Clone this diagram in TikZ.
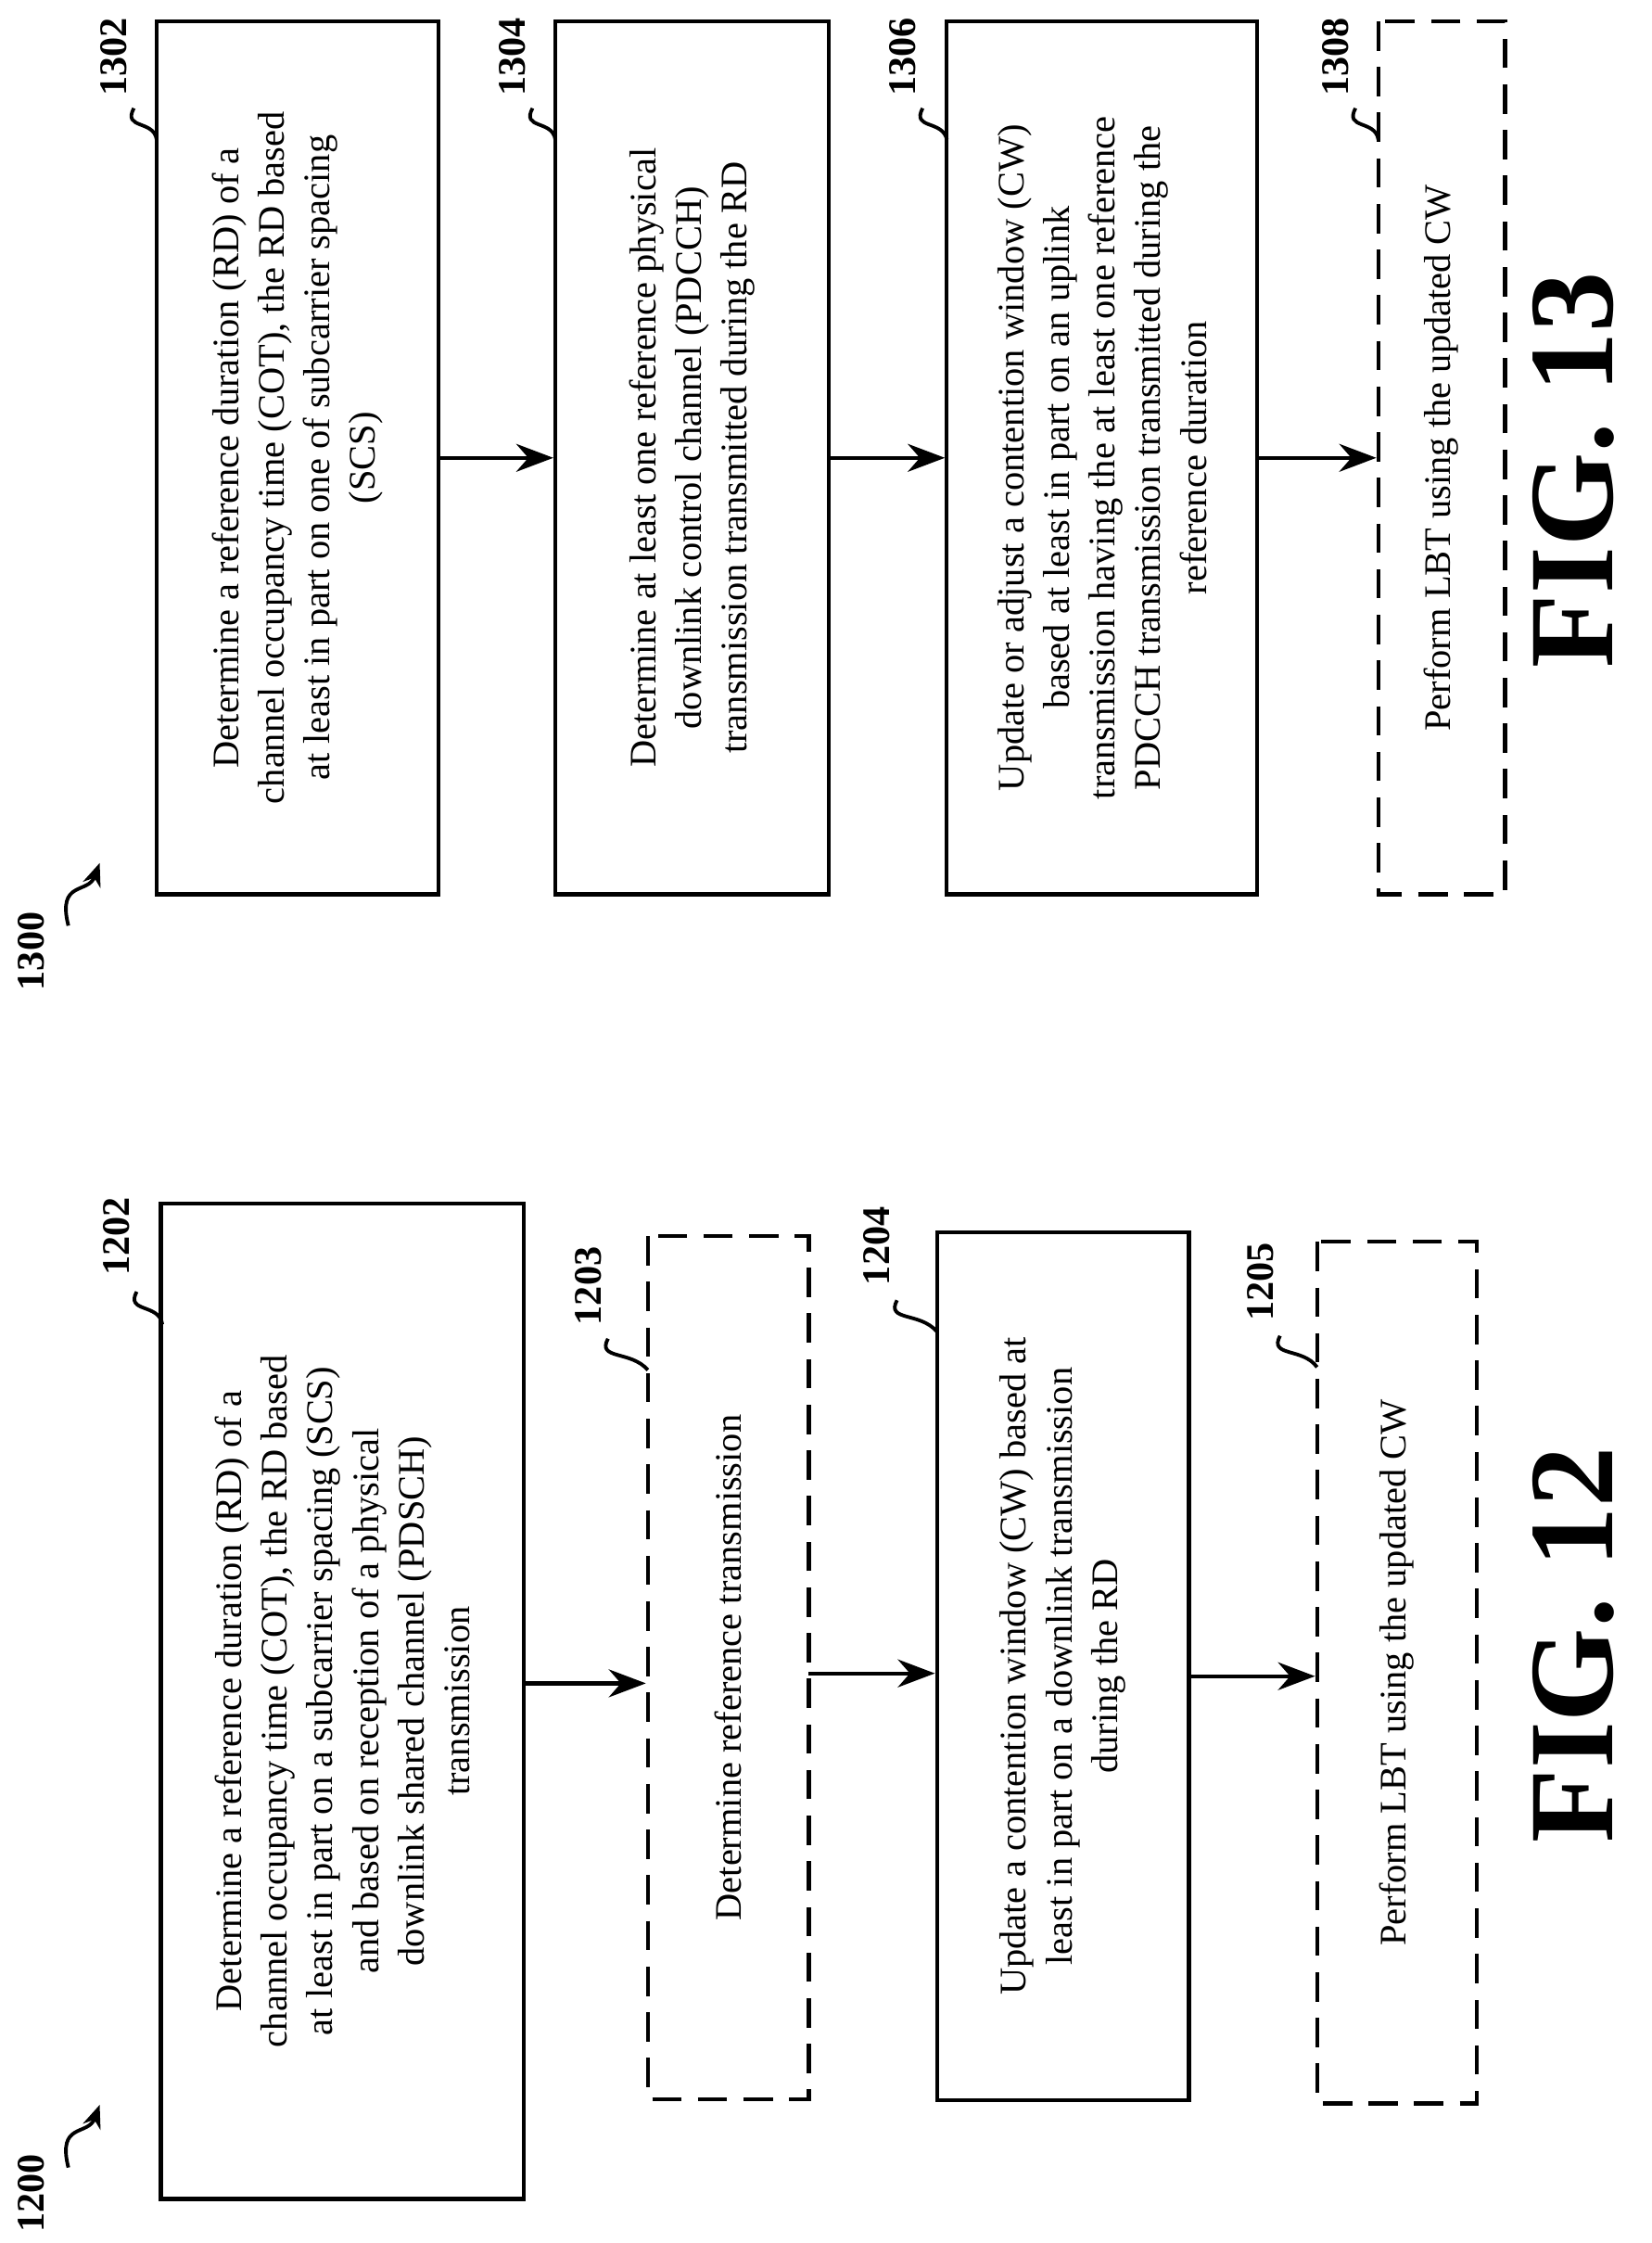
\documentclass[tikz,border=0pt]{standalone}
\usepackage{fontspec}
\setmainfont{Liberation Serif}
\usetikzlibrary{arrows.meta}
\begin{document}
\begin{tikzpicture}[x=0.015353cm,y=-0.015353cm,
  box/.style={draw,line width=1.2pt,rotate=90,inner sep=0pt,align=center,font=\fontsize{11.5}{14}\selectfont},
  dbox/.style={box,dash pattern=on 9pt off 5pt},
  lab/.style={rotate=90,font=\bfseries\fontsize{12}{14}\selectfont},
  fig/.style={rotate=90,font=\bfseries\fontsize{37}{40}\selectfont},
  arr/.style={line width=1.2pt,-{Stealth[length=4mm,width=3mm]}},
  sq/.style={line width=1.1pt}]
\useasboundingbox (0,0) rectangle (1160,1575);
% FIG 12
\node[box,minimum width=699*0.015353cm,minimum height=255*0.015353cm] (b1202) at (240.5,1194.5)
 {Determine a reference duration (RD) of a\\channel occupancy time (COT), the RD based\\at least in part on a subcarrier spacing (SCS)\\and based on reception of a physical\\downlink shared channel (PDSCH)\\transmission};
\node[dbox,minimum width=606*0.015353cm,minimum height=113*0.015353cm] (b1203) at (511.5,1171) {Determine reference transmission};
\node[box,minimum width=609*0.015353cm,minimum height=177*0.015353cm] (b1204) at (746.5,1170)
 {Update a contention window (CW) based at\\least in part on a downlink transmission\\during the RD};
\node[dbox,minimum width=605*0.015353cm,minimum height=112*0.015353cm] (b1205) at (981,1174.5) {Perform LBT using the updated CW};
\draw[arr] (368,1182) coordinate(a1) -- (a1 -| b1203.north);
\draw[arr] (568,1175) coordinate(a2) -- (a2 -| b1204.north);
\draw[arr] (835,1177) coordinate(a3) -- (a3 -| b1205.north);
% FIG 13
\node[box,minimum width=613*0.015353cm,minimum height=198*0.015353cm] (b1302) at (209,321.5)
 {Determine a reference duration (RD) of a\\channel occupancy time (COT), the RD based\\at least in part on one of subcarrier spacing\\(SCS)};
\node[box,minimum width=613*0.015353cm,minimum height=192*0.015353cm] (b1304) at (486,321.5)
 {Determine at least one reference physical\\downlink control channel (PDCCH)\\transmission transmitted during the RD};
\node[box,minimum width=613*0.015353cm,minimum height=218*0.015353cm] (b1306) at (774,321.5)
 {Update or adjust a contention window (CW)\\based at least in part on an uplink\\transmission having the at least one reference\\PDCCH transmission transmitted during the\\reference duration};
\node[dbox,minimum width=613*0.015353cm,minimum height=89*0.015353cm] (b1308) at (1012.5,321.5) {Perform LBT using the updated CW};
\draw[arr] (b1302.south) -- (b1304.north);
\draw[arr] (b1304.south) -- (b1306.north);
\draw[arr] (b1306.south) -- (b1308.north);
% labels
\node[lab] (l1200) at (22,1540) {1200};
\draw[sq,-{Stealth[length=2.5mm,width=2mm]}] (48,1522) .. controls (40,1490) and (62,1500) .. (70,1478);
\node[lab] (l1300) at (22,668) {1300};
\draw[sq,-{Stealth[length=2.5mm,width=2mm]}] (48,650) .. controls (40,618) and (62,628) .. (70,606);
\node[lab] (l1202) at (82,868) {1202};
\draw[sq] (96,907) .. controls (88,922) and (112,915) .. (114,930);
\node[lab] (l1203) at (413,903) {1203};
\draw[sq] (427,940) .. controls (419,955) and (443,948) .. (455,962);
\node[lab] (l1204) at (616,875) {1204};
\draw[sq] (630,913) .. controls (622,928) and (646,921) .. (658,935);
\node[lab] (l1205) at (885,900) {1205};
\draw[sq] (899,938) .. controls (891,953) and (915,946) .. (925,960);
\node[lab] (l1302) at (80,40) {1302};
\draw[sq] (94,76) .. controls (86,91) and (108,84) .. (110,98);
\node[lab] (l1304) at (360,40) {1304};
\draw[sq] (374,76) .. controls (366,91) and (388,84) .. (390,98);
\node[lab] (l1306) at (634,40) {1306};
\draw[sq] (648,76) .. controls (640,91) and (662,84) .. (665,98);
\node[lab] (l1308) at (938,40) {1308};
\draw[sq] (952,76) .. controls (944,91) and (966,84) .. (968,98);
\node[fig] (f12) at (1105,1155) {FIG. 12};
\node[fig] (f13) at (1105,330) {FIG. 13};
\end{tikzpicture}
\end{document}
